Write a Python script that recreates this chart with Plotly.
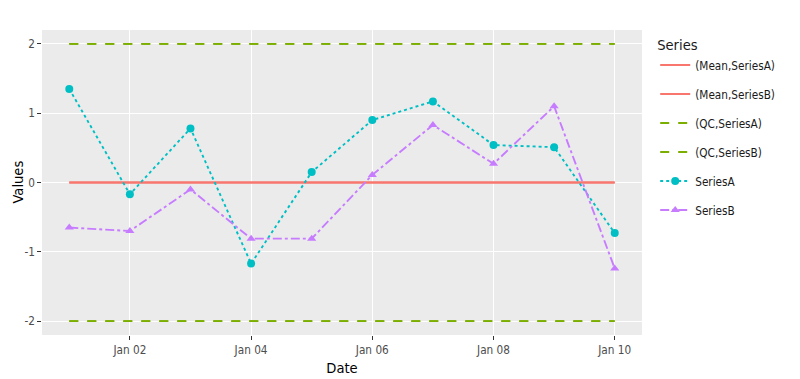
import plotly.graph_objects as go

dates = ["2023-01-01", "2023-01-02", "2023-01-03", "2023-01-04", "2023-01-05",
         "2023-01-06", "2023-01-07", "2023-01-08", "2023-01-09", "2023-01-10"]
series_a = [1.35, -0.17, 0.78, -1.17, 0.15, 0.90, 1.17, 0.54, 0.51, -0.73]
series_b = [-0.65, -0.70, -0.10, -0.81, -0.81, 0.11, 0.83, 0.27, 1.10, -1.24]
mean_value = 0.0
qc_upper = 2.0
qc_lower = -2.0
y_tick_vals = [-2, -1, 0, 1, 2]
y_tick_text = ["-2", "-1", "0", "1", "2"]
x_tick_vals = ["2023-01-02", "2023-01-04", "2023-01-06", "2023-01-08", "2023-01-10"]
x_tick_text = ["Jan 02", "Jan 04", "Jan 06", "Jan 08", "Jan 10"]

MEAN_COL = "#F8766D"
QC_COL = "#7CAE00"
A_COL = "#00BFC4"
B_COL = "#C77CFF"
LW = 1.89
FONT = "DejaVu Sans Condensed, Open Sans, sans-serif"

fig = go.Figure()

for name in ["(Mean,SeriesA)", "(Mean,SeriesB)"]:
    fig.add_trace(go.Scatter(
        x=[dates[0], dates[-1]], y=[mean_value, mean_value], mode="lines",
        line=dict(color=MEAN_COL, width=LW), name=name, legendgroup=name))

for name in ["(QC,SeriesA)", "(QC,SeriesB)"]:
    fig.add_trace(go.Scatter(
        x=[dates[0], dates[-1], None, dates[0], dates[-1]],
        y=[qc_upper, qc_upper, None, qc_lower, qc_lower], mode="lines",
        line=dict(color=QC_COL, width=LW, dash="dash"), name=name, legendgroup=name))

fig.add_trace(go.Scatter(
    x=dates, y=series_a, mode="lines+markers", name="SeriesA", legendgroup="SeriesA",
    line=dict(color=A_COL, width=LW, dash="dot"),
    marker=dict(color=A_COL, size=8, symbol="circle")))

fig.add_trace(go.Scatter(
    x=dates, y=series_b, mode="lines+markers", name="SeriesB", legendgroup="SeriesB",
    line=dict(color=B_COL, width=LW, dash="dashdot"),
    marker=dict(color=B_COL, size=8, symbol="triangle-up")))

fig.update_layout(
    width=800, height=379,
    margin=dict(l=34, r=166, t=22, b=52),
    paper_bgcolor="white", plot_bgcolor="#EBEBEB",
    font=dict(family=FONT, color="black", size=14.6),
    showlegend=True,
    legend=dict(
        title=dict(text="Series", font=dict(size=14.6)),
        font=dict(size=11.7, color="rgba(26,26,26,1)"),
        x=1.022, y=0.995, xanchor="left", yanchor="top",
        bgcolor="white", tracegroupgap=10),
    xaxis=dict(
        type="date", automargin=False,
        range=["2022-12-31 13:12", "2023-01-10 10:48"],
        tickvals=x_tick_vals, ticktext=x_tick_text,
        ticks="outside", ticklen=3.65, tickcolor="rgba(51,51,51,1)", tickwidth=0.66,
        tickfont=dict(size=11.7, color="rgba(77,77,77,1)"),
        showgrid=True, gridcolor="white", gridwidth=0.66, zeroline=False, showline=False,
        title=dict(text="Date", font=dict(size=14.6, color="black"), standoff=7)),
    yaxis=dict(
        range=[-2.2, 2.2], automargin=False,
        tickvals=y_tick_vals, ticktext=y_tick_text,
        ticks="outside", ticklen=3.65, tickcolor="rgba(51,51,51,1)", tickwidth=0.66,
        tickfont=dict(size=11.7, color="rgba(77,77,77,1)"),
        showgrid=True, gridcolor="white", gridwidth=0.66, zeroline=False, showline=False),
    annotations=[dict(
        text="Values", textangle=-90, xref="paper", yref="paper",
        x=0, y=0.5, xanchor="center", yanchor="middle", xshift=-25,
        showarrow=False, font=dict(size=14.6, color="black"))],
)

fig.write_html("out.html")
